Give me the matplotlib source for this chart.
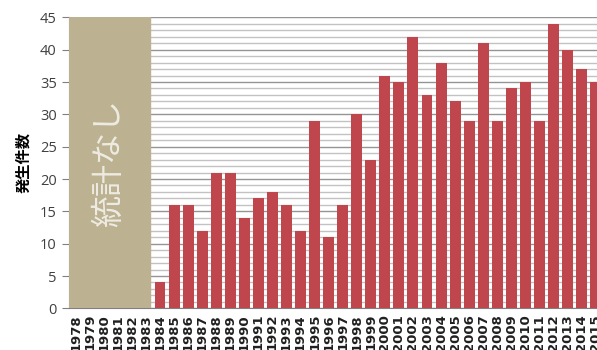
import matplotlib
matplotlib.use("Agg")
import matplotlib.pyplot as plt
from matplotlib.ticker import MultipleLocator

plt.rcParams["font.family"] = ["Noto Sans CJK JP", "DejaVu Sans"]

years = [str(y) for y in range(1978, 2016)]
no_stats_years = ["1978", "1979", "1980", "1981", "1982", "1983"]
counts = [
    None, None, None, None, None, None,
    4, 16, 16, 12, 21, 21, 14, 17, 18, 16,
    12, 29, 11, 16, 30, 23, 36, 35, 42, 33,
    38, 32, 29, 41, 29, 34, 35, 29, 44, 40,
    37, 35
]
ylabel = "発生件数"
no_stats_label = "統計なし"

fig = plt.figure(figsize=(5.97, 3.5), dpi=100)
ax = fig.add_axes([0.115, 0.119, 0.8945, 0.8314])

x = list(range(len(years)))
bar_x = [i for i, v in zip(x, counts) if v is not None]
bar_h = [v for v in counts if v is not None]

ax.bar(bar_x, bar_h, width=0.78, color="#c0464e", zorder=3)

# block covering the years with no statistics
n_blank = len(no_stats_years)
ax.axvspan(-0.5, n_blank - 0.7, ymin=0, ymax=1, color="#bcb291", zorder=4)
ax.text(
    (n_blank - 1.2) / 2, 22.5, no_stats_label,
    rotation=90, ha="center", va="center",
    fontsize=23, color="#eeebe2", zorder=5
)

ax.set_xlim(-0.5, len(years) - 0.5)
ax.set_ylim(0, 45)
ax.yaxis.set_major_locator(MultipleLocator(5))
ax.yaxis.set_minor_locator(MultipleLocator(1))
ax.grid(axis="y", which="minor", color="#c2c2c2", linewidth=1.0, zorder=1)
ax.grid(axis="y", which="major", color="#949494", linewidth=1.0, zorder=2)
ax.set_axisbelow(True)

ax.set_xticks(x)
ax.set_xticklabels(years, rotation=90, fontsize=9.5, fontweight="bold",
                   color="#202020", family=["DejaVu Sans"])
ax.tick_params(axis="x", length=0, pad=4)
ax.tick_params(axis="y", which="major", length=5, color="#808080",
               labelsize=10.5, labelcolor="#404040")
ax.tick_params(axis="y", which="minor", length=0)
for lab in ax.get_yticklabels():
    lab.set_family(["Open Sans", "DejaVu Sans"])

ax.set_ylabel(ylabel, fontsize=11, fontweight="bold", labelpad=6)

for side in ["top", "right"]:
    ax.spines[side].set_visible(False)
ax.spines["left"].set_color("#808080")
ax.spines["bottom"].set_color("#808080")

fig.savefig("out.png", dpi=100)
plt.close(fig)
